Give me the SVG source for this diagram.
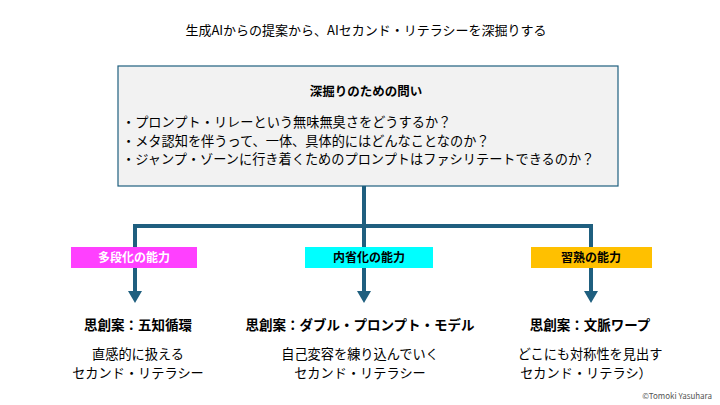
<svg xmlns="http://www.w3.org/2000/svg" width="720" height="405" viewBox="0 0 720 405">
<defs>
<style>
text{font-family:"Noto Sans CJK JP","Noto Sans",sans-serif;fill:#000}
.b{font-weight:bold}
.c{stroke:#1f5f7f;stroke-width:4;fill:none}
</style>
</defs>
<rect width="720" height="405" fill="#fff"/>
<text x="366" y="35" font-size="13" text-anchor="middle">生成AIからの提案から、AIセカンド・リテラシーを深掘りする</text>
<g id="connectors">
<path class="c" d="M364,186 V291"/>
<path class="c" d="M135,226 H591"/>
<path class="c" d="M135,224 V291" />
<path class="c" d="M591,224 V291"/>
<path d="M135,291 l-7,0 l7,12 l7,-12 Z M364,291 l-7,0 l7,12 l7,-12 Z M591,291 l-7,0 l7,12 l7,-12 Z" fill="#1f5f7f"/>
</g>
<g id="main">
<rect x="118" y="66" width="500" height="120" fill="#f2f2f2" stroke="#1f5f7f" stroke-width="1.2"/>
<text x="366" y="96" font-size="12.5" class="b" text-anchor="middle">深掘りのための問い</text>
<text x="122" y="127" font-size="13.2">・プロンプト・リレーという無味無臭さをどうするか？</text>
<text x="122" y="145.5" font-size="13.2">・メタ認知を伴うって、一体、具体的にはどんなことなのか？</text>
<text x="122" y="164" font-size="13.2">・ジャンプ・ゾーンに行き着くためのプロンプトはファシリテートできるのか？</text>
</g>
<g id="n1">
<rect x="71" y="247" width="126" height="21" fill="#ff40ff"/>
<text x="134" y="262" font-size="12" class="b" text-anchor="middle" style="fill:#fff">多段化の能力</text>
<text x="138" y="330" font-size="13.5" class="b" text-anchor="middle">思創案：五知循環</text>
<text x="138" y="359" font-size="13.2" text-anchor="middle">直感的に扱える</text>
<text x="138" y="378" font-size="13.2" text-anchor="middle">セカンド・リテラシー</text>
</g>
<g id="n2">
<rect x="305" y="247" width="128" height="21" fill="#00ffff"/>
<text x="369" y="262" font-size="12" class="b" text-anchor="middle">内省化の能力</text>
<text x="360" y="330" font-size="13.5" class="b" text-anchor="middle">思創案：ダブル・プロンプト・モデル</text>
<text x="360" y="359" font-size="13.2" text-anchor="middle">自己変容を練り込んでいく</text>
<text x="360" y="378" font-size="13.2" text-anchor="middle">セカンド・リテラシー</text>
</g>
<g id="n3">
<rect x="531" y="247" width="121" height="21" fill="#ffc000"/>
<text x="591" y="262" font-size="12" class="b" text-anchor="middle">習熟の能力</text>
<text x="590" y="330" font-size="13.5" class="b" text-anchor="middle">思創案：文脈ワープ</text>
<text x="590" y="359" font-size="13.2" text-anchor="middle">どこにも対称性を見出す</text>
<text x="586" y="378" font-size="13.2" text-anchor="middle">セカンド・リテラシ）</text>
</g>
<text x="712" y="399" font-size="8" text-anchor="end" style="fill:#555">©Tomoki Yasuhara</text>
</svg>
